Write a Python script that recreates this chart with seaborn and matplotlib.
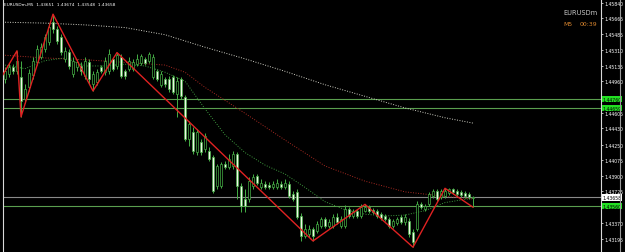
import numpy as np
import matplotlib
matplotlib.use("Agg")
import matplotlib.pyplot as plt
import seaborn as sns
from matplotlib.lines import Line2D

# ---------------- data ----------------
symbol = "EURUSDm"
timeframe = "M5"
timer = "00:39"
title_text = "EURUSDm,M5  1.43651  1.43674  1.43548  1.43658"

opens = [
    1.4498, 1.4504, 1.4512, 1.4507, 1.4501, 1.4476, 1.4489, 1.4503, 1.4517, 1.4523,
    1.4532, 1.4540, 1.4562, 1.4554, 1.4545, 1.4521, 1.4529, 1.4504, 1.4512, 1.4513,
    1.4502, 1.4517, 1.4493, 1.4495, 1.4512, 1.4506, 1.4507, 1.4521, 1.4513, 1.4523,
    1.4507, 1.4510, 1.4510, 1.4515, 1.4516, 1.4521, 1.4519, 1.4501, 1.4507, 1.4492,
    1.4498, 1.4498, 1.4501, 1.4482, 1.4498, 1.4478, 1.4431, 1.4439, 1.4417, 1.4428,
    1.4420, 1.4418, 1.4411, 1.4379, 1.4379, 1.4403, 1.4400, 1.4401, 1.4414, 1.4379,
    1.4364, 1.4364, 1.4379, 1.4390, 1.4377, 1.4381, 1.4380, 1.4377, 1.4377, 1.4381,
    1.4377, 1.4381, 1.4370, 1.4372, 1.4345, 1.4323, 1.4325, 1.4330, 1.4328, 1.4334,
    1.4342, 1.4334, 1.4334, 1.4344, 1.4334, 1.4334, 1.4353, 1.4345, 1.4351, 1.4345,
    1.4351, 1.4355, 1.4352, 1.4351, 1.4347, 1.4345, 1.4342, 1.4334, 1.4337, 1.4344,
    1.4338, 1.4339, 1.4327, 1.4330, 1.4358, 1.4353, 1.4358, 1.4367, 1.4373, 1.4366,
    1.4367, 1.4371, 1.4375, 1.4373, 1.4372, 1.4371, 1.4370, 1.43651,
]
highs = [
    1.4512, 1.4516, 1.4515, 1.4530, 1.4519, 1.4493, 1.4510, 1.4523, 1.4537, 1.4539,
    1.4549, 1.4561, 1.4571, 1.4558, 1.4549, 1.4534, 1.4532, 1.4523, 1.4521, 1.4517,
    1.4523, 1.4521, 1.4507, 1.4510, 1.4514, 1.4523, 1.4532, 1.4523, 1.4528, 1.4526,
    1.4510, 1.4523, 1.4521, 1.4526, 1.4526, 1.4523, 1.4529, 1.4526, 1.4510, 1.4507,
    1.4501, 1.4502, 1.4503, 1.4501, 1.4501, 1.4481, 1.4451, 1.4445, 1.4442, 1.4431,
    1.4438, 1.4422, 1.4413, 1.4403, 1.4405, 1.4407, 1.4414, 1.4418, 1.4417, 1.4382,
    1.4375, 1.4389, 1.4392, 1.4392, 1.4386, 1.4384, 1.4383, 1.4384, 1.4386, 1.4384,
    1.4386, 1.4384, 1.4373, 1.4375, 1.4348, 1.4336, 1.4335, 1.4333, 1.4339, 1.4344,
    1.4344, 1.4342, 1.4347, 1.4348, 1.4345, 1.4357, 1.4355, 1.4353, 1.4353, 1.4358,
    1.4358, 1.4357, 1.4354, 1.4353, 1.4349, 1.4347, 1.4344, 1.4342, 1.4344, 1.4346,
    1.4347, 1.4343, 1.4330, 1.4362, 1.4361, 1.4358, 1.4372, 1.4375, 1.4375, 1.4375,
    1.4376, 1.4376, 1.4376, 1.4375, 1.4374, 1.4373, 1.4372, 1.43674,
]
lows = [
    1.4494, 1.4501, 1.4504, 1.4504, 1.4456, 1.4472, 1.4485, 1.4498, 1.4514, 1.4521,
    1.4529, 1.4537, 1.4550, 1.4538, 1.4525, 1.4517, 1.4510, 1.4501, 1.4507, 1.4503,
    1.4498, 1.4493, 1.4485, 1.4492, 1.4505, 1.4503, 1.4504, 1.4507, 1.4510, 1.4500,
    1.4498, 1.4507, 1.4507, 1.4513, 1.4514, 1.4514, 1.4516, 1.4498, 1.4496, 1.4489,
    1.4489, 1.4484, 1.4482, 1.4456, 1.4476, 1.4429, 1.4423, 1.4414, 1.4413, 1.4413,
    1.4417, 1.4407, 1.4371, 1.4375, 1.4376, 1.4398, 1.4398, 1.4398, 1.4364, 1.4349,
    1.4349, 1.4361, 1.4375, 1.4380, 1.4375, 1.4375, 1.4375, 1.4375, 1.4375, 1.4375,
    1.4375, 1.4365, 1.4362, 1.4342, 1.4317, 1.4320, 1.4321, 1.4317, 1.4326, 1.4332,
    1.4332, 1.4332, 1.4332, 1.4336, 1.4332, 1.4332, 1.4343, 1.4343, 1.4343, 1.4343,
    1.4349, 1.4348, 1.4347, 1.4343, 1.4341, 1.4339, 1.4332, 1.4332, 1.4335, 1.4336,
    1.4335, 1.4321, 1.4310, 1.4328, 1.4353, 1.4351, 1.4356, 1.4365, 1.4362, 1.4364,
    1.4365, 1.4369, 1.4370, 1.4367, 1.4366, 1.4365, 1.4364, 1.43548,
]
closes = [
    1.4507, 1.4512, 1.4507, 1.4519, 1.4474, 1.4487, 1.4505, 1.4519, 1.4532, 1.4534,
    1.4545, 1.4557, 1.4554, 1.4541, 1.4529, 1.4530, 1.4513, 1.4519, 1.4517, 1.4507,
    1.4519, 1.4498, 1.4504, 1.4506, 1.4507, 1.4519, 1.4526, 1.4510, 1.4525, 1.4502,
    1.4502, 1.4519, 1.4517, 1.4521, 1.4524, 1.4516, 1.4526, 1.4523, 1.4498, 1.4504,
    1.4493, 1.4487, 1.4484, 1.4496, 1.4479, 1.4431, 1.4448, 1.4418, 1.4439, 1.4417,
    1.4435, 1.4409, 1.4373, 1.4401, 1.4403, 1.4400, 1.4409, 1.4414, 1.4379, 1.4356,
    1.4356, 1.4384, 1.4389, 1.4382, 1.4382, 1.4377, 1.4377, 1.4381, 1.4382, 1.4377,
    1.4382, 1.4367, 1.4364, 1.4344, 1.4323, 1.4330, 1.4330, 1.4323, 1.4336, 1.4342,
    1.4334, 1.4338, 1.4344, 1.4338, 1.4342, 1.4353, 1.4345, 1.4351, 1.4345, 1.4355,
    1.4355, 1.4351, 1.4349, 1.4345, 1.4343, 1.4342, 1.4334, 1.4339, 1.4342, 1.4338,
    1.4344, 1.4325, 1.4316, 1.4358, 1.4355, 1.4356, 1.4370, 1.4373, 1.4364, 1.4373,
    1.4373, 1.4375, 1.4372, 1.4370, 1.4369, 1.4367, 1.4366, 1.43658,
]

zigzag_idx = [-2, 3, 4, 12, 22, 28, 77, 90, 102, 110, 117]
zigzag_price = [1.4492, 1.4530, 1.4456, 1.4571, 1.4485, 1.4528,
                1.4317, 1.4358, 1.4310, 1.4376, 1.43548]

ma_slow_idx = [0, 10, 20, 30, 40, 50, 60, 70, 80, 90, 100, 110, 117]
ma_slow = [1.4562, 1.4561, 1.4559, 1.4556, 1.4548, 1.4534, 1.4521,
           1.4507, 1.4492, 1.4479, 1.4466, 1.4455, 1.4449]

ma_mid_idx = [0, 10, 20, 30, 40, 45, 50, 60, 70, 80, 90, 100, 110, 117]
ma_mid = [1.4525, 1.4522, 1.4520, 1.4517, 1.4514, 1.4506, 1.4489,
          1.4460, 1.4430, 1.4401, 1.4384, 1.4372, 1.4367, 1.4364]

ma_fast_idx = [0, 5, 10, 15, 20, 25, 30, 35, 40, 45, 50, 55, 60,
               65, 70, 75, 80, 85, 90, 95, 100, 105, 110, 117]
ma_fast = [1.4514, 1.4510, 1.4519, 1.4522, 1.4513, 1.4513, 1.4515, 1.4513,
           1.4506, 1.4496, 1.4465, 1.4436, 1.4416, 1.4402, 1.4392, 1.4377,
           1.4361, 1.4352, 1.4347, 1.4345, 1.4346, 1.4351, 1.4360, 1.4365]

green_levels = [1.44760, 1.44659, 1.43560]
green_level_labels = ["1.44760", "1.44659", "1.43560"]
bid_price = 1.43658
bid_label = "1.43658"

tick_prices = [1.45840, 1.45665, 1.45485, 1.45310, 1.45135, 1.44960,
               1.44605, 1.44430, 1.44250, 1.44075, 1.43900, 1.43725,
               1.43370, 1.43195]
tick_labels = ["1.45840", "1.45665", "1.45485", "1.45310", "1.45135", "1.44960",
               "1.44605", "1.44430", "1.44250", "1.44075", "1.43900", "1.43725",
               "1.43370", "1.43195"]

# ---------------- style ----------------
sns.set_theme(style="dark")
plt.rcParams["font.family"] = ["DejaVu Sans"]

W, H = 625, 253
fig = plt.figure(figsize=(W / 100, H / 100), dpi=100, facecolor="black")
ax = fig.add_axes([3 / W, 0.0, 598 / W, 1.0])
ax.set_facecolor("black")

GREEN = "#46b046"
WHITE_BODY = "#eef6e6"

idx = np.arange(len(opens))
o = np.array(opens); c = np.array(closes)
hi = np.array(highs); lo = np.array(lows)
bull = c >= o

# wicks
ax.vlines(idx, lo, hi, color=GREEN, linewidth=0.7, zorder=3)
# bodies
bottoms = np.minimum(o, c)
heights = np.maximum(np.abs(c - o), 0.00003)
ax.bar(idx, heights, bottom=bottoms, width=0.7,
       color=np.where(bull, "black", WHITE_BODY),
       edgecolor=GREEN, linewidth=0.5, zorder=4)

# moving averages (dotted)
sns.lineplot(x=ma_slow_idx, y=ma_slow, ax=ax, color="#cfcfc4",
             linewidth=0.7, linestyle=(0, (1, 1.6)), zorder=2)
sns.lineplot(x=ma_mid_idx, y=ma_mid, ax=ax, color="#a82a22",
             linewidth=0.7, linestyle=(0, (1, 1.6)), zorder=2)
sns.lineplot(x=ma_fast_idx, y=ma_fast, ax=ax, color="#3e9a3e",
             linewidth=0.7, linestyle=(0, (1, 1.6)), zorder=2)

# horizontal levels
for lv in green_levels:
    ax.axhline(lv, color="#5a9e4e", linewidth=0.8, zorder=1)
ax.axhline(bid_price, color="#8a8a8a", linewidth=0.8, zorder=1)

# zigzag
sns.lineplot(x=zigzag_idx, y=zigzag_price, ax=ax, color="#e02222",
             linewidth=1.0, zorder=5)

# axes limits: 4 px per bar, y scale from the price axis
ax.set_xlim(-0.5, -0.5 + 598 / 4)
ax.set_ylim(1.4588 - 0.000112 * H, 1.4588)
ax.set_xticks([])
ax.set_xlabel("")
ax.set_ylabel("")
ax.grid(False)

ax.yaxis.tick_right()
ax.set_yticks(tick_prices)
ax.set_yticklabels(tick_labels)
ax.tick_params(axis="y", colors="white", labelsize=3.3, length=1.6,
               width=0.5, pad=0.8)
for s in ["top", "bottom"]:
    ax.spines[s].set_visible(False)
for s in ["left", "right"]:
    ax.spines[s].set_visible(True)
    ax.spines[s].set_color("#d8d8d8")
    ax.spines[s].set_linewidth(0.8)

# price labels in boxes on the axis
for lv, lab in zip(green_levels, green_level_labels):
    ax.text(1.002, lv, lab, transform=ax.get_yaxis_transform(),
            fontsize=3.3, color="black", va="center", ha="left",
            bbox=dict(boxstyle="square,pad=0.15", facecolor="#22e022",
                      edgecolor="none"), zorder=10, clip_on=False)
ax.text(1.002, bid_price, bid_label, transform=ax.get_yaxis_transform(),
        fontsize=3.3, color="black", va="center", ha="left",
        bbox=dict(boxstyle="square,pad=0.15", facecolor="white",
                  edgecolor="none"), zorder=10, clip_on=False)

# window right border
fig.add_artist(Line2D([620 / W, 620 / W], [0, 1], color="#9a9a9a",
                      linewidth=0.8, transform=fig.transFigure))

# texts
fig.text(4 / W, 1 - 5.5 / H, title_text, color="white", fontsize=3.1,
         ha="left", va="center")
fig.text(598 / W, 1 - 13 / H, symbol, color="#c8c8c8", fontsize=4.8,
         ha="right", va="center")
fig.text(563 / W, 1 - 24 / H, timeframe, color="#d9852e", fontsize=4.4,
         ha="left", va="center")
fig.text(597 / W, 1 - 24 / H, timer, color="#d9852e", fontsize=4.4,
         ha="right", va="center")

fig.savefig("out.png", dpi=100, facecolor="black")
